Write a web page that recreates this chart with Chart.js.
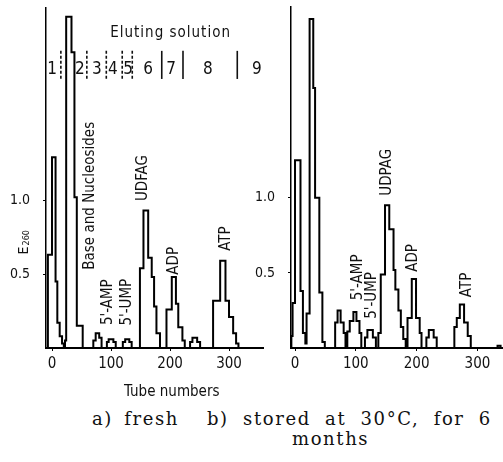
<!DOCTYPE html>
<html lang="en">
<head>
    <meta charset="UTF-8">
    <title>E260 elution profiles</title>
    <script src="https://cdn.jsdelivr.net/npm/chart.js"></script>
    <style>
        body { margin: 0; background: #fff; }
        #wrap { position: relative; width: 503px; height: 462px; overflow: hidden; }
        canvas { position: absolute; top: 0; }
        .cap { position: absolute; font-family: "DejaVu Serif", "Liberation Serif", serif; font-size: 18px; letter-spacing: 1.6px; color: #111; white-space: nowrap; }
    </style>
</head>
<body>
<div id="wrap">
    <canvas id="chartA" width="275" height="400" style="left:0"></canvas>
    <canvas id="chartB" width="253" height="400" style="left:250px"></canvas>
    <div class="cap" style="left:92px; top:408px; word-spacing:4px">a) fresh</div>
    <div class="cap" style="left:207px; top:408px; word-spacing:7px">b) stored at 30°C, for 6</div>
    <div class="cap" style="left:292px; top:428px">months</div>
</div>

<script>
    // tube number where each step starts, and E260 held until the next tube
    const tubesA = [-10, -7, 0, 6, 9, 13, 17, 20, 22, 24, 33, 38, 42, 52,
        70, 74, 80, 84, 93, 96, 104, 108, 120, 124, 131, 135,
        149, 155, 163, 169, 173, 177, 183,
        194, 203, 210, 214, 221, 225, 234, 238, 246, 251,
        273, 285, 294, 300, 307, 312, 316, 357];
    const e260A = [0, 0.63, 1.29, 0.45, 0.17, 0.08, 0.03, 0, 0.05, 2.24, 2.0, 1.02, 0.15, 0,
        0.05, 0.1, 0.07, 0, 0.04, 0.06, 0.04, 0, 0.04, 0.06, 0.04, 0,
        0.54, 0.93, 0.61, 0.48, 0.28, 0.1, 0,
        0.26, 0.48, 0.3, 0.14, 0.05, 0, 0.04, 0.07, 0.04, 0,
        0.32, 0.59, 0.32, 0.21, 0.1, 0.03, 0, 0];

    const tubesB = [-7, -6, -4, 0, 9, 13, 17, 19, 24, 30, 33, 40, 45, 49,
        66, 70, 75, 80, 83, 86, 90, 96, 101, 106, 109, 115, 119, 128, 133,
        137, 141, 148, 155, 162, 165, 170, 174, 178, 182,
        185, 192, 199, 205, 208, 216, 220, 228, 233,
        262, 266, 271, 278, 284, 289, 333, 338, 342];
    const e260B = [0, 0.08, 0.3, 1.25, 0.38, 0.1, 0.03, 0.23, 2.19, 1.73, 1.0, 0.37, 0.04, 0,
        0.17, 0.25, 0.17, 0.1, 0, 0.11, 0.18, 0.24, 0.18, 0.1, 0, 0.07, 0.12, 0.07, 0,
        0.1, 0.49, 0.95, 0.79, 0.52, 0.39, 0.25, 0.14, 0.06, 0,
        0.2, 0.46, 0.2, 0.1, 0, 0.07, 0.12, 0.07, 0,
        0.14, 0.2, 0.29, 0.17, 0.08, 0, 0.015, 0, 0];

    const xTicks = [0, 100, 200, 300];
    const yTicks = [0.5, 1.0];

    // rotated peak names: [text, tube, E260]
    const peakLabelsA = [["Base and Nucleosides", 64, 1.03], ["5'-AMP", 95, 0.31], ["5'-UMP", 127, 0.31],
        ["UDFAG", 154, 1.15], ["ADP", 207, 0.59], ["ATP", 295, 0.74]];
    const peakLabelsB = [["UDPAG", 151, 1.17], ["5'-AMP", 104, 0.47], ["5'-UMP", 127, 0.35],
        ["ADP", 195, 0.6], ["ATP", 283, 0.42]];

    // eluting solution bands (panel a)
    const solutionNames = ["1", "2", "3", "4", "5", "6", "7", "8", "9"];
    const solutionTubes = [0, 47, 76, 103, 129, 163, 202, 264, 347];
    const dividerTubes = [15, 59, 92, 119, 136, 186, 222, 314];
    const dividerDashed = [true, true, true, true, true, false, false, false];

    const labelFont = '"DejaVu Sans Condensed", "DejaVu Sans", sans-serif';

    function toPoints(xs, ys) {
        return xs.map((x, i) => ({ x: x, y: ys[i] }));
    }

    function annotate(peaks, extra) {
        return {
            id: 'annotate',
            afterDraw(chart) {
                const ctx = chart.ctx;
                const xs = chart.scales.x, ys = chart.scales.y;
                ctx.save();
                ctx.fillStyle = '#111';
                ctx.font = '15px ' + labelFont;
                ctx.textAlign = 'center';
                ctx.textBaseline = 'middle';
                peaks.forEach(p => {
                    ctx.save();
                    ctx.translate(xs.getPixelForValue(p[1]), ys.getPixelForValue(p[2]));
                    ctx.rotate(-Math.PI / 2);
                    ctx.fillText(p[0], 0, 0);
                    ctx.restore();
                });
                ctx.restore();
                if (extra) extra(chart);
            }
        };
    }

    function panelAExtras(chart) {
        const ctx = chart.ctx;
        const xs = chart.scales.x, ys = chart.scales.y;
        ctx.save();
        ctx.fillStyle = '#111';
        ctx.strokeStyle = '#111';
        ctx.textAlign = 'center';
        ctx.textBaseline = 'middle';
        ctx.font = '15px ' + labelFont;
        ctx.letterSpacing = '1px';
        ctx.fillText('Eluting solution', xs.getPixelForValue(201), ys.getPixelForValue(2.13));
        ctx.letterSpacing = '0px';
        ctx.font = '17px ' + labelFont;
        solutionNames.forEach((n, i) => {
            ctx.fillText(n, xs.getPixelForValue(solutionTubes[i]), ys.getPixelForValue(1.885));
        });
        ctx.lineWidth = 1.6;
        dividerTubes.forEach((t, i) => {
            ctx.setLineDash(dividerDashed[i] ? [3, 2] : []);
            const px = xs.getPixelForValue(t);
            ctx.beginPath();
            ctx.moveTo(px, ys.getPixelForValue(2.01));
            ctx.lineTo(px, ys.getPixelForValue(1.82));
            ctx.stroke();
        });
        ctx.setLineDash([]);
        // axis titles
        ctx.font = '15px ' + labelFont;
        ctx.fillText('Tube numbers', xs.getPixelForValue(203), chart.chartArea.bottom + 44);
        ctx.translate(24, ys.getPixelForValue(0.7));
        ctx.rotate(-Math.PI / 2);
        ctx.textAlign = 'left';
        ctx.font = '14px ' + labelFont;
        ctx.fillText('E', -10, 0);
        ctx.font = '9px ' + labelFont;
        ctx.fillText('260', -1, 3);
        ctx.restore();
    }

    function makeChart(id, xs, ys, xMin, xMax, yMax, axisWidth, padding, plugin) {
        return new Chart(document.getElementById(id), {
            type: 'line',
            data: {
                datasets: [{
                    data: toPoints(xs, ys),
                    stepped: 'before',
                    borderColor: '#000',
                    borderWidth: 2,
                    pointRadius: 0,
                    fill: false
                }]
            },
            options: {
                responsive: false,
                animation: false,
                devicePixelRatio: 1,
                layout: { padding: padding },
                plugins: { legend: { display: false }, tooltip: { enabled: false } },
                scales: {
                    x: {
                        type: 'linear',
                        min: xMin,
                        max: xMax,
                        afterBuildTicks: s => { s.ticks = xTicks.map(v => ({ value: v })); },
                        afterFit: s => { s.height = 52; s.paddingLeft = 0; s.paddingRight = 0; },
                        border: { display: true, color: '#000', width: 2 },
                        grid: { drawOnChartArea: false, drawTicks: true, tickLength: 3, color: '#000' },
                        ticks: { color: '#111', font: { size: 15, family: labelFont }, padding: 4, maxRotation: 0 }
                    },
                    y: {
                        min: 0,
                        max: yMax,
                        afterBuildTicks: s => { s.ticks = yTicks.map(v => ({ value: v })); },
                        afterFit: s => { s.width = axisWidth; s.paddingTop = 0; s.paddingBottom = 0; },
                        border: { display: true, color: '#000', width: 1.5 },
                        grid: { drawOnChartArea: false, drawTicks: true, tickLength: 3, color: '#000' },
                        ticks: { color: '#111', font: { size: 14, family: labelFont }, padding: 13, callback: v => v.toFixed(1) }
                    }
                }
            },
            plugins: [plugin]
        });
    }

    makeChart('chartA', tubesA, e260A, -10.2, 357.6, 2.3, 46, { top: 8, right: 12, left: 0, bottom: 0 },
        annotate(peakLabelsA, panelAExtras));
    makeChart('chartB', tubesB, e260B, -6.6, 342, 2.27, 41, { top: 7, right: 0, left: 0, bottom: 0 },
        annotate(peakLabelsB));
</script>
</body>
</html>
